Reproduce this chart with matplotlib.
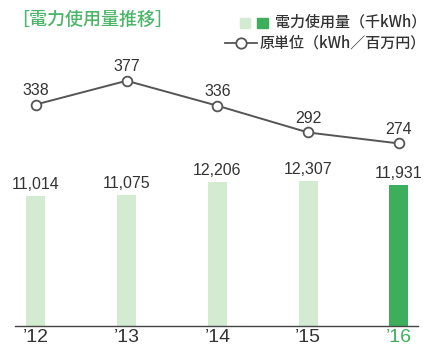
import numpy as np
import matplotlib
matplotlib.use("Agg")
import matplotlib.pyplot as plt
from matplotlib.patches import Rectangle
from matplotlib.lines import Line2D

# 電力使用量（千kWh）と原単位（kWh／百万円）
years = ["’12", "’13", "’14", "’15", "’16"]
usage = [11014, 11075, 12206, 12307, 11931]
intensity = [338, 377, 336, 292, 274]

light_green = "#d3ebd1"
dark_green = "#3daf5c"
title_green = "#4db56a"
text_gray = "#333333"
line_gray = "#555555"

num_font = "Liberation Sans"
jp_font = ["Noto Sans CJK JP", "DejaVu Sans"]

fig = plt.figure(figsize=(4.3, 3.45), dpi=100)
W, H = 430, 345
ax = fig.add_axes([15 / W, (H - 326) / H, (418 - 15) / W, (326 - 40) / H])

x = np.arange(len(years))
colors = [light_green] * (len(years) - 1) + [dark_green]
ax.bar(x, usage, width=0.21, color=colors, zorder=2)
for xi, v in zip(x, usage):
    ax.annotate(f"{v:,}", (xi, v), xytext=(0, 3), textcoords="offset points",
                ha="center", va="bottom", fontsize=11.5, color=text_gray,
                family=num_font)

ax.set_xlim(-0.23, 4.21)
ax.set_ylim(0, 24230)
ax.set_yticks([])
for s in ["top", "right", "left"]:
    ax.spines[s].set_visible(False)
ax.spines["bottom"].set_color("#444444")
ax.spines["bottom"].set_linewidth(1.0)
ax.set_xticks(x)
ax.set_xticklabels(years, fontsize=14, family=num_font)
ax.tick_params(axis="x", length=0, pad=2)
for lbl, c in zip(ax.get_xticklabels(), [text_gray] * 4 + [dark_green]):
    lbl.set_color(c)

# 原単位の折れ線（第2軸）
ax2 = ax.twinx()
ax2.plot(x, intensity, color=line_gray, lw=1.4, marker="o", ms=7,
         mfc="white", mec=line_gray, mew=1.3, zorder=3)
for xi, v in zip(x, intensity):
    ax2.annotate(f"{v}", (xi, v), xytext=(0, 5), textcoords="offset points",
                 ha="center", va="bottom", fontsize=11.5, color=text_gray,
                 family=num_font)
ax2.set_ylim(-26, 444)
ax2.set_yticks([])
for s in ax2.spines.values():
    s.set_visible(False)

# タイトル
fig.text(11 / W, 1 - 20 / H, "［電力使用量推移］", fontsize=13, color=title_green,
         family=jp_font, weight="medium", va="center", ha="left")

# 凡例
fig.patches.append(Rectangle((240 / W, 1 - 28 / H), 10 / W, 10 / H,
                             transform=fig.transFigure, color=light_green))
fig.patches.append(Rectangle((257 / W, 1 - 28 / H), 11 / W, 10 / H,
                             transform=fig.transFigure, color=dark_green))
fig.text(275 / W, 1 - 22 / H, "電力使用量（千kWh）", fontsize=10.8, color=text_gray,
         family=jp_font, weight="medium", va="center", ha="left")
fig.lines.append(Line2D([225 / W, 257 / W], [1 - 43 / H, 1 - 43 / H],
                        transform=fig.transFigure, color=line_gray, lw=1.3))
fig.lines.append(Line2D([241 / W], [1 - 43 / H], transform=fig.transFigure,
                        marker="o", ms=7.5, mfc="white", mec=line_gray, mew=1.3))
fig.text(260 / W, 1 - 43 / H, "原単位（kWh／百万円）", fontsize=10.8, color=text_gray,
         family=jp_font, weight="medium", va="center", ha="left")

fig.savefig("out.png", dpi=100)
